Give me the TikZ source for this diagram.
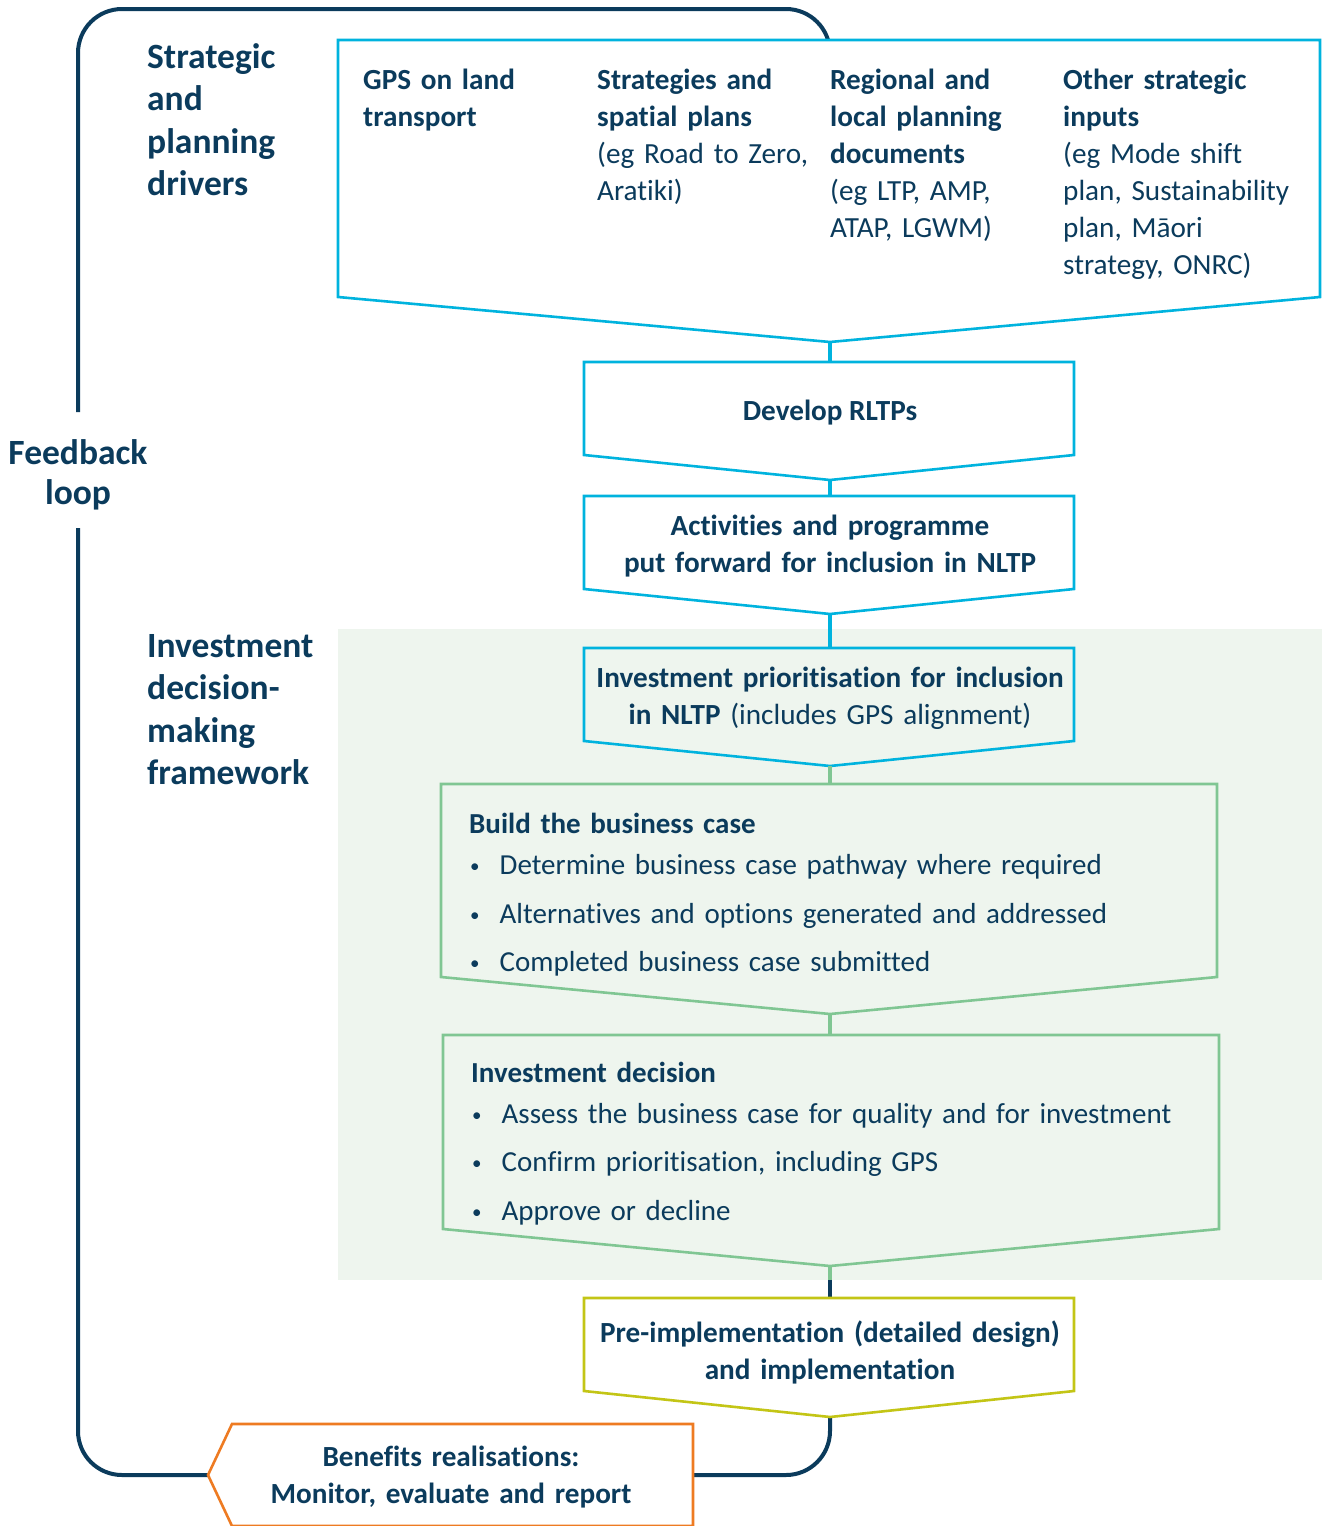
\documentclass[tikz,border=0pt]{standalone}
\usepackage{fontspec}
\setmainfont{Carlito}[Ligatures={NoCommon}]
\definecolor{navy}{HTML}{0B3B5C}
\definecolor{cyanl}{HTML}{00B3DE}
\definecolor{greenl}{HTML}{80C693}
\definecolor{greenbg}{HTML}{EEF5EE}
\definecolor{olivel}{HTML}{C3C516}
\definecolor{orangel}{HTML}{EE7B22}
\begin{document}
\begin{tikzpicture}[x=1pt,y=-1pt,
  loopline/.style={draw=navy,line width=4pt,rounded corners=44pt},
  cbox/.style={draw=cyanl,line width=2.6pt,line join=miter},
  gbox/.style={draw=greenl,line width=2.6pt,line join=miter},
  cconn/.style={draw=cyanl,line width=4.5pt},
  gconn/.style={draw=greenl,line width=4.5pt},
  nconn/.style={draw=navy,line width=4pt},
  txt/.style={text=navy,inner sep=0pt,font=\fontsize{29.2}{37}\selectfont},
  colt/.style={txt,anchor=base west,text width=228pt,align=left},
  head/.style={text=navy,inner sep=0pt,anchor=base west,text width=185pt,align=left,font=\fontsize{35.5}{42.5}\selectfont\bfseries},
  ctxt/.style={txt,anchor=base,align=center},
  bultxt/.style={txt,anchor=base west,text width=730pt,align=left,font=\fontsize{29}{41}\selectfont}
]
\useasboundingbox (0,0) rectangle (1322,1526);
\newcommand{\bul}{\makebox[30.5pt][l]{\hspace{1pt}{\fontsize{19}{19}\selectfont\raisebox{2pt}{\textbullet}}}}

% feedback loop
\draw[loopline] (78,412) -- (78,9) -- (830,9) -- (830,60);
\draw[loopline] (78,528) -- (78,1475) -- (830,1475) -- (830,1417);

% central navy connector (under green background)
\coordinate (bgBottom) at (830,1280);
\coordinate (preTop) at (830,1298);
\draw[nconn] (830,1266) -- (preTop);

% green background
\fill[greenbg] (338,629) rectangle (1322,1280);

% boxes
\draw[cbox,fill=white] (338,40) -- (1320,40) -- (1320,297) -- (830,342) -- (338,297) -- cycle;
\coordinate (topTip) at (830,342);
\draw[cbox,fill=white] (584,362) -- (1074,362) -- (1074,455) -- (830,480) -- (584,455) -- cycle;
\coordinate (rltpTop) at (830,362);
\coordinate (rltpTip) at (830,480);
\draw[cbox,fill=white] (584,496) -- (1074,496) -- (1074,589) -- (830,614) -- (584,589) -- cycle;
\coordinate (actTop) at (830,496);
\coordinate (actTip) at (830,614);
\draw[cbox] (584,648) -- (1074,648) -- (1074,741) -- (830,766) -- (584,741) -- cycle;
\coordinate (prioTop) at (830,648);
\coordinate (prioTip) at (830,766);
\draw[gbox] (441,784) -- (1217,784) -- (1217,977) -- (830,1014) -- (441,977) -- cycle;
\coordinate (buildTop) at (830,784);
\coordinate (buildTip) at (830,1014);
\draw[gbox] (443,1035) -- (1219,1035) -- (1219,1229) -- (830,1266) -- (443,1229) -- cycle;
\coordinate (decTop) at (830,1035);
\coordinate (decTip) at (830,1266);
\draw[draw=olivel,line width=2.6pt,fill=white] (584,1298) -- (1074,1298) -- (1074,1391) -- (830,1417) -- (584,1391) -- cycle;
\coordinate (preTip) at (830,1417);
\draw[draw=orangel,line width=2.6pt,fill=white] (693,1526) -- (693,1424) -- (232,1424) -- (208,1475) -- (232,1526) -- cycle;

% connectors
\draw[cconn] (topTip) -- (rltpTop);
\draw[cconn] (rltpTip) -- (actTop);
\draw[cconn] (actTip) -- (prioTop);
\draw[gconn] (prioTip) -- (buildTop);
\draw[gconn] (buildTip) -- (decTop);
\draw[gconn] (decTip) -- (bgBottom);

% side headings
\node[head] (hstrat) at (147,68) {Strategic\\and\\planning\\drivers};
\node[head] (hinv) at (147,657) {Investment\\decision-\\making\\framework};
\node[text=navy,inner sep=0pt,anchor=base,text width=150pt,align=center,font=\fontsize{35.5}{40}\selectfont\bfseries] (hfb) at (78,464) {Feedback\\loop};

% top box columns
\node[colt] (c1) at (363,89) {\textbf{GPS on land}\\\textbf{transport}};
\node[colt] (c2) at (597,89) {\textbf{Strategies and}\\\textbf{spatial plans}\\(eg Road to Zero,\\Aratiki)};
\node[colt] (c3) at (830,89) {\textbf{Regional and}\\\textbf{local planning}\\\textbf{documents}\\(eg LTP, AMP,\\ATAP, LGWM)};
\node[colt,text width=250pt] (c4) at (1063,89) {\textbf{Other strategic}\\\textbf{inputs}\\(eg Mode shift\\plan, Sustainability\\plan, Māori\\strategy, ONRC)};

% centred texts
\node[ctxt] (trltp) at (830,420) {\textbf{Develop RLTPs}};
\node[ctxt,text width=480pt] (tact) at (830,535) {\textbf{Activities and programme}\\\textbf{put forward for inclusion in NLTP}};
\node[ctxt,text width=480pt] (tprio) at (830,687) {\textbf{Investment prioritisation for inclusion}\\\textbf{in NLTP} (includes GPS alignment)};
\node[ctxt,text width=480pt] (tpre) at (830,1342) {\textbf{Pre-implementation (detailed design)}\\\textbf{and implementation}};
\node[ctxt,text width=440pt] (tben) at (451,1466) {\textbf{Benefits realisations:}\\\textbf{Monitor, evaluate and report}};

% bullet boxes
\node[bultxt] (tbuild) at (469,833) {\textbf{Build the business case}\\
\bul Determine business case pathway where required\\[8pt]
\bul Alternatives and options generated and addressed\\[7pt]
\bul Completed business case submitted};
\node[bultxt] (tdec) at (471,1082) {\textbf{Investment decision}\\
\bul Assess the business case for quality and for investment\\[7pt]
\bul Confirm prioritisation, including GPS\\[8pt]
\bul Approve or decline};
\end{tikzpicture}
\end{document}
